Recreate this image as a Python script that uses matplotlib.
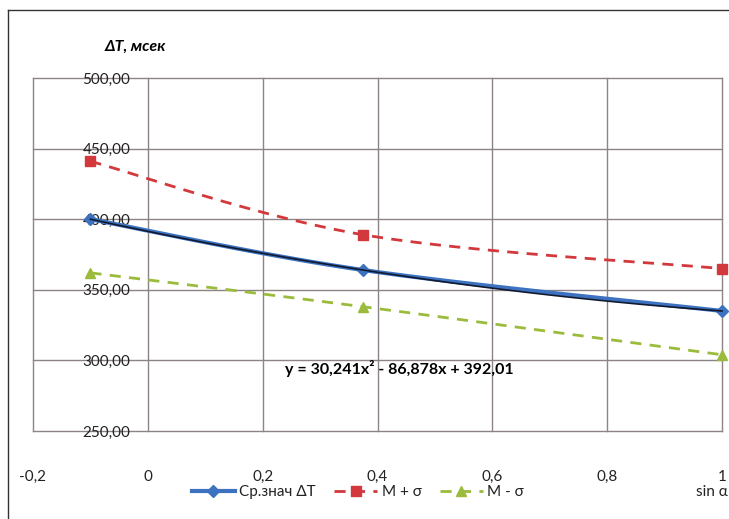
import matplotlib.pyplot as plt
import numpy as np
from matplotlib.lines import Line2D

plt.rcParams['font.family'] = ['Lato', 'DejaVu Sans']

# data
sin_a = [-0.1, 0.375, 1.0]
mean_dt = [400, 364, 335]
m_plus = [441, 389, 365]
m_minus = [362, 338, 304]
x_ticks = [-0.2, 0, 0.2, 0.4, 0.6, 0.8, 1]
x_labels = ['-0,2', '0', '0,2', '0,4', '0,6', '0,8', '1']
y_ticks = [250, 300, 350, 400, 450, 500]
y_labels = ['250,00', '300,00', '350,00', '400,00', '450,00', '500,00']
equation = 'y = 30,241x² - 86,878x + 392,01'

W, H = 729, 519
fig = plt.figure(figsize=(W / 100, H / 100), dpi=100)
ax = fig.add_axes([33 / W, 1 - 431 / H, (722 - 33) / W, (431 - 78) / H])


def smooth(xv, yv, n=40):
    # excel-like smoothed line: bezier segments through the points
    p = np.column_stack([xv, yv]).astype(float)
    ext = np.vstack([p[0], p, p[-1]])
    t = np.linspace(0, 1, n)[:, None]
    out = []
    for i in range(len(p) - 1):
        a, b = p[i], p[i + 1]
        c1 = a + (ext[i + 2] - ext[i]) / 6
        c2 = b - (ext[i + 3] - ext[i + 1]) / 6
        seg = (1 - t) ** 3 * a + 3 * (1 - t) ** 2 * t * c1 + 3 * (1 - t) * t ** 2 * c2 + t ** 3 * b
        out.append(seg)
    out = np.vstack(out)
    return out[:, 0], out[:, 1]


grid_c = '#8c8484'
for t in x_ticks:
    ax.axvline(t, color=grid_c, lw=1, zorder=1, clip_on=False)
for t in y_ticks:
    ax.axhline(t, color=grid_c, lw=1, zorder=1, clip_on=False)

dash = (0, (4, 3))
ax.plot(*smooth(sin_a, m_plus), color='#d2383c', lw=2, ls=dash, zorder=3, clip_on=False)
ax.plot(sin_a, m_plus, 's', color='#d2383c', ms=7, zorder=4, clip_on=False)
ax.plot(*smooth(sin_a, m_minus), color='#9bbb3c', lw=2, ls=dash, zorder=3, clip_on=False)
ax.plot(sin_a, m_minus, '^', color='#9bbb3c', ms=7, zorder=4, clip_on=False)
ax.plot(*smooth(sin_a, mean_dt), color='#3d72c0', lw=3, zorder=3, clip_on=False)
ax.plot(sin_a, mean_dt, 'D', color='#3d72c0', ms=6, zorder=4, clip_on=False)

# polynomial trendline of the mean
xs = np.linspace(sin_a[0], sin_a[-1], 100)
ax.plot(xs, np.polyval(np.polyfit(sin_a, mean_dt, 2), xs), color='#101a30', lw=1.2,
        zorder=5, clip_on=False)

ax.set_xlim(-0.2, 1)
ax.set_ylim(250, 500)
ax.set_xticks(x_ticks)
ax.set_xticklabels(x_labels, fontsize=11, color='#222222')
ax.set_yticks(y_ticks)
ax.set_yticklabels(y_labels, fontsize=11, color='#222222')
ax.tick_params(axis='both', length=0)
ax.tick_params(axis='x', pad=28)
ax.tick_params(axis='y', pad=-70)
for s in ax.spines.values():
    s.set_visible(False)

ax.text(0.438, 294, equation, fontsize=11.5, fontweight='bold', ha='center', va='center', zorder=6)

fig.text(135 / W, 1 - 47 / H, 'ΔT, мсек', fontsize=11.5, fontweight='bold',
         fontstyle='italic', ha='center', va='center')
fig.text(712 / W, 1 - 492 / H, 'sin α', fontsize=11, ha='center', va='center', color='#222222')

handles = [
    Line2D([], [], color='#3d72c0', lw=3, marker='D', ms=6),
    Line2D([], [], color='#d2383c', lw=2, ls=dash, marker='s', ms=7),
    Line2D([], [], color='#9bbb3c', lw=2, ls=dash, marker='^', ms=7),
]
leg = fig.legend(handles, ['Ср.знач ΔT', 'M + σ', 'M - σ'], loc='center',
                 bbox_to_anchor=(358 / W, 1 - 492 / H), ncol=3, frameon=False,
                 fontsize=11, handlelength=2.8, handletextpad=0.3, columnspacing=1.2)
for txt in leg.get_texts():
    txt.set_color('#222222')

fig.add_artist(Line2D([8 / W, 8 / W], [0, 1 - 10 / H], color='#333333', lw=1))
fig.add_artist(Line2D([8 / W, 1], [1 - 10 / H, 1 - 10 / H], color='#333333', lw=1))

fig.savefig('out.png', dpi=100)
